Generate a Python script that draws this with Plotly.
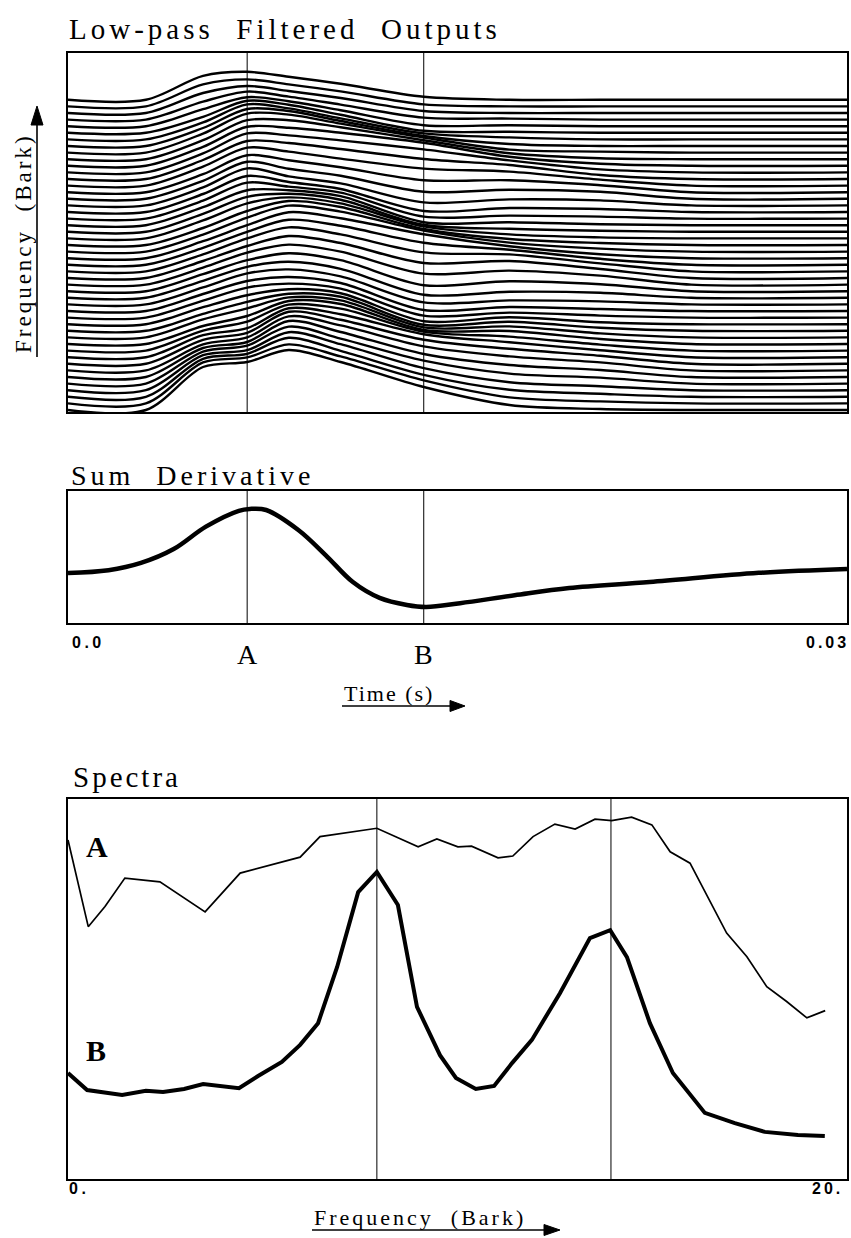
import plotly.graph_objects as go

W, H = 851, 1238

# ---------------- data ----------------
# Top panel: low-pass filtered outputs of 48 channels, stacked by channel.
# Output values (upward deflection) at knot times, listed from the highest channel to the lowest.
knot_time_s = [0.0, 0.0030, 0.0052, 0.0069, 0.0085, 0.0105, 0.0137, 0.0170, 0.0205, 0.0240, 0.0300]
channel_level = [47, 46, 45, 44, 43, 42, 41, 40, 39, 38, 37, 36, 35, 34, 33, 32,
                 31, 30, 29, 28, 27, 26, 25, 24, 23, 22, 21, 20, 19, 18, 17, 16,
                 15, 14, 13, 12, 11, 10, 9, 8, 7, 6, 5, 4, 3, 2, 1, 0]
out_rest = [0, 0, 0, 0, 0, 0, 0, 0, 0, 0, 0, 0, 0, 0, 0, 0,
            0, 0, 0, 0, 0, 0, 0, 0, 0, 0, 0, 0, 0, 0, 0, 0,
            0, 0, 0, 0, 0, 0, 0, 0, 0, 0, 0, 0, 0, 0, 0, 0]
out_5_2ms = [24, 22, 20, 18, 17, 16, 17, 18, 19, 19, 19, 19, 19, 19, 18, 18,
             18, 18, 18, 18, 18, 18, 17, 17, 17, 17, 17, 17, 17, 17, 17, 17,
             17, 17, 17, 17, 18, 18, 20, 22, 24, 26, 29, 32, 35, 38, 41, 43]
out_6_9ms = [28, 27, 27, 28, 29, 32, 35, 37, 39, 39, 39, 39, 38, 38, 37, 37,
             37, 36, 36, 35, 35, 35, 34, 34, 33, 33, 33, 32, 32, 31, 31, 31,
             30, 30, 29, 29, 29, 28, 29, 29, 31, 33, 35, 38, 40, 43, 46, 48]
out_8_5ms = [23, 22, 22, 23, 25, 28, 31, 35, 38, 39, 38, 37, 36, 34, 32, 30,
             29, 30, 32, 35, 38, 41, 44, 46, 46, 45, 44, 42, 40, 38, 36, 35,
             34, 34, 35, 37, 40, 43, 46, 49, 52, 54, 56, 57, 58, 59, 59, 60]
out_10_5ms = [16, 15, 15, 15, 16, 18, 21, 25, 29, 32, 33, 32, 30, 27, 25, 23,
              22, 23, 26, 29, 32, 35, 38, 40, 40, 39, 37, 35, 33, 31, 29, 28,
              28, 29, 31, 34, 37, 40, 42, 43, 44, 45, 45, 45, 46, 46, 47, 48]
out_13_7ms = [3, 2, 2, 2, 1, 2, 6, 10, 15, 19, 23, 23, 20, 17, 12, 7,
              3, 1, 2, 3, 7, 12, 16, 21, 24, 22, 19, 15, 11, 6, 3, 2,
              1, 2, 3, 6, 10, 14, 19, 23, 24, 24, 23, 23, 22, 22, 23, 23]
out_17_0ms = [0, 0, 0, 1, 1, 1, 2, 2, 3, 6, 9, 12, 14, 14, 12, 9,
              6, 4, 3, 3, 3, 4, 6, 9, 12, 15, 17, 17, 14, 10, 6, 4,
              4, 5, 7, 9, 11, 13, 14, 15, 15, 14, 12, 10, 8, 7, 6, 5]
out_20_5ms = [0, 0, 0, 0, 0, 0, 0, 0, 1, 1, 2, 3, 4, 6, 7, 7,
              5, 3, 2, 1, 1, 1, 2, 3, 4, 6, 8, 9, 9, 7, 5, 3,
              2, 2, 2, 3, 4, 5, 6, 7, 8, 8, 7, 6, 4, 3, 2, 1]
outputs_by_knot = [out_rest, out_rest, out_5_2ms, out_6_9ms, out_8_5ms, out_10_5ms,
                   out_13_7ms, out_17_0ms, out_20_5ms, out_rest, out_rest]

# Sum derivative
sumderiv_time_s = [0.0, 0.00156, 0.00281, 0.00407, 0.00531, 0.00658, 0.0070, 0.00763,
                   0.00887, 0.00992, 0.01097, 0.0120, 0.01305, 0.0138, 0.0151, 0.0172,
                   0.0193, 0.0224, 0.0266, 0.0300]
sumderiv_value = [0.379, 0.40, 0.455, 0.56, 0.73, 0.85, 0.864, 0.856,
                  0.705, 0.515, 0.31, 0.19, 0.136, 0.121, 0.15, 0.21,
                  0.265, 0.31, 0.38, 0.41]

# Analysis instants
time_A_s = 0.0069
time_B_s = 0.0137

# Spectra at A and B
spec_A_bark = [0.0, 0.52, 0.95, 1.46, 2.36, 3.52, 4.42, 5.96, 6.47, 7.93, 8.99, 9.47,
               10.01, 10.36, 11.04, 11.42, 11.94, 12.5, 13.02, 13.53, 13.96, 14.47,
               14.99, 15.46, 15.97, 16.91, 17.43, 17.94, 18.45, 18.97, 19.44]
spec_A_level = [0.892, 0.664, 0.717, 0.792, 0.782, 0.703, 0.805, 0.847, 0.901, 0.923, 0.874, 0.895,
                0.874, 0.876, 0.845, 0.85, 0.901, 0.934, 0.921, 0.947, 0.943, 0.952,
                0.932, 0.861, 0.831, 0.647, 0.585, 0.506, 0.467, 0.424, 0.443]
spec_B_bark = [0.0, 0.49, 1.39, 2.0, 2.44, 2.98, 3.47, 4.39, 4.88, 5.49, 5.96, 6.42,
               6.91, 7.45, 7.93, 8.47, 8.96, 9.55, 9.96, 10.47, 10.94, 11.4, 11.91,
               12.63, 13.4, 13.92, 14.35, 14.94, 15.53, 16.35, 17.12, 17.89, 18.74, 19.43]
spec_B_level = [0.279, 0.234, 0.221, 0.232, 0.229, 0.237, 0.25, 0.239, 0.271, 0.308, 0.353, 0.41,
                0.558, 0.755, 0.808, 0.721, 0.453, 0.326, 0.266, 0.237, 0.245, 0.305, 0.366,
                0.489, 0.634, 0.655, 0.584, 0.41, 0.279, 0.174, 0.147, 0.124, 0.116, 0.113]
spec_marker_bark = [7.93, 13.94]

# ---------------- style ----------------
CH_SPACING = 6.6
SERIF = "Liberation Serif"
SANS = "Liberation Sans"
BLACK = "black"


def px_x(px):
    return px / W


def px_y(py):
    return 1 - py / H


def spaced(text, ls):
    return f'<span style="letter-spacing:{ls}px">{text}</span>'


NB = "\u00a0"

fig = go.Figure()

# top panel traces
for c, lvl in enumerate(channel_level):
    ys = [CH_SPACING * lvl + outputs_by_knot[j][c] for j in range(len(knot_time_s))]
    fig.add_trace(go.Scatter(x=knot_time_s, y=ys, mode="lines",
                             line=dict(color=BLACK, width=2.4, shape="spline", smoothing=0.9),
                             xaxis="x", yaxis="y", hoverinfo="skip"))

# sum derivative
fig.add_trace(go.Scatter(x=sumderiv_time_s, y=sumderiv_value, mode="lines",
                         line=dict(color=BLACK, width=4.5, shape="spline", smoothing=1.0),
                         xaxis="x2", yaxis="y2", hoverinfo="skip"))

# spectra
fig.add_trace(go.Scatter(x=spec_A_bark, y=spec_A_level, mode="lines",
                         line=dict(color=BLACK, width=1.7),
                         xaxis="x3", yaxis="y3", hoverinfo="skip"))
fig.add_trace(go.Scatter(x=spec_B_bark, y=spec_B_level, mode="lines",
                         line=dict(color=BLACK, width=4),
                         xaxis="x3", yaxis="y3", hoverinfo="skip"))

xd = [px_x(68), px_x(847)]
dom_top = [px_y(412), px_y(53)]
dom_sum = [px_y(623), px_y(491)]
dom_spec = [px_y(1179), px_y(799)]

ax_common = dict(showline=True, mirror=True, linecolor=BLACK, linewidth=1.6,
                 showgrid=False, zeroline=False, showticklabels=False, ticks="")

fig.update_layout(
    width=W, height=H, margin=dict(l=0, r=0, t=0, b=0),
    paper_bgcolor="white", plot_bgcolor="white", showlegend=False,
    xaxis=dict(domain=xd, range=[0, 0.03], anchor="y", **ax_common),
    yaxis=dict(domain=dom_top, range=[-2, 357], anchor="x", **ax_common),
    xaxis2=dict(domain=xd, range=[0, 0.03], anchor="y2", **ax_common),
    yaxis2=dict(domain=dom_sum, range=[0, 1], anchor="x2", **ax_common),
    xaxis3=dict(domain=xd, range=[0, 20], anchor="y3", **ax_common),
    yaxis3=dict(domain=dom_spec, range=[0, 1], anchor="x3", **ax_common),
)

shapes = []
for xr, yr in (("x", "y domain"), ("x2", "y2 domain")):
    for t in (time_A_s, time_B_s):
        shapes.append(dict(type="line", xref=xr, yref=yr, x0=t, x1=t, y0=0, y1=1,
                           line=dict(color=BLACK, width=1)))
for b in spec_marker_bark:
    shapes.append(dict(type="line", xref="x3", yref="y3 domain", x0=b, x1=b, y0=0, y1=1,
                       line=dict(color=BLACK, width=1)))


def hline(x0, x1, y):
    return dict(type="line", xref="paper", yref="paper", x0=px_x(x0), x1=px_x(x1),
                y0=px_y(y), y1=px_y(y), line=dict(color=BLACK, width=1.6))


def tri(points):
    d = "M " + " L ".join(f"{px_x(a):.5f},{px_y(b):.5f}" for a, b in points) + " Z"
    return dict(type="path", xref="paper", yref="paper", path=d,
                fillcolor=BLACK, line=dict(color=BLACK, width=1))


# y-axis label arrow (top panel)
shapes.append(dict(type="line", xref="paper", yref="paper", x0=px_x(37), x1=px_x(37),
                   y0=px_y(357), y1=px_y(122), line=dict(color=BLACK, width=1.6)))
shapes.append(tri([(31, 125), (43, 125), (37, 106)]))
# Time (s) arrow
shapes.append(hline(342, 452, 706))
shapes.append(tri([(450, 700.5), (450, 711.5), (465, 706)]))
# Frequency (Bark) arrow
shapes.append(hline(312, 546, 1230))
shapes.append(tri([(544, 1224.5), (544, 1235.5), (560, 1230)]))

fig.update_layout(shapes=shapes)


def ann(text, x, y, size, family=SERIF, xanchor="left", yanchor="middle", xref="paper",
        angle=0, bold=False):
    if bold:
        text = f"<b>{text}</b>"
    return dict(text=text, x=x, y=y, xref=xref, yref="paper", xanchor=xanchor,
                yanchor=yanchor, showarrow=False, textangle=angle,
                font=dict(family=family, size=size, color=BLACK))


annotations = [
    ann(spaced(f"Low-pass{NB}{NB}Filtered{NB}{NB}Outputs", 4), px_x(67), px_y(29), 29),
    ann(spaced(f"Sum{NB}{NB}Derivative", 4), px_x(69), px_y(475), 28),
    ann(spaced("Spectra", 3), px_x(71), px_y(777), 29),
    ann(spaced(f"Frequency{NB}{NB}(Bark)", 3), px_x(24), px_y(243), 23, angle=-90,
        xanchor="center"),
    ann(spaced("0.0", 3.5), px_x(70), px_y(642), 16, family=SANS, bold=True),
    ann(spaced("0.03", 3), px_x(804), px_y(642), 16, family=SANS, bold=True),
    ann("A", time_A_s, px_y(654), 28, xanchor="center", xref="x2"),
    ann("B", time_B_s, px_y(654), 28, xanchor="center", xref="x2"),
    ann(spaced(f"Time{NB}(s)", 2), px_x(342), px_y(693), 22),
    ann("A", px_x(97), px_y(846), 30, xanchor="center", bold=True),
    ann("B", px_x(96), px_y(1050), 30, xanchor="center", bold=True),
    ann(spaced("0.", 3.5), px_x(67), px_y(1188), 16, family=SANS, bold=True),
    ann(spaced("20.", 3), px_x(810), px_y(1188), 16, family=SANS, bold=True),
    ann(spaced(f"Frequency{NB}{NB}(Bark)", 3), px_x(312), px_y(1217), 22),
]
fig.update_layout(annotations=annotations)

# no toolbar; remove the default page margin so the figure fills the window exactly
fig.write_html("out.html",
               config={"displayModeBar": False},
               post_script="document.body.style.margin='0';"
                           "document.body.style.overflow='hidden';")
